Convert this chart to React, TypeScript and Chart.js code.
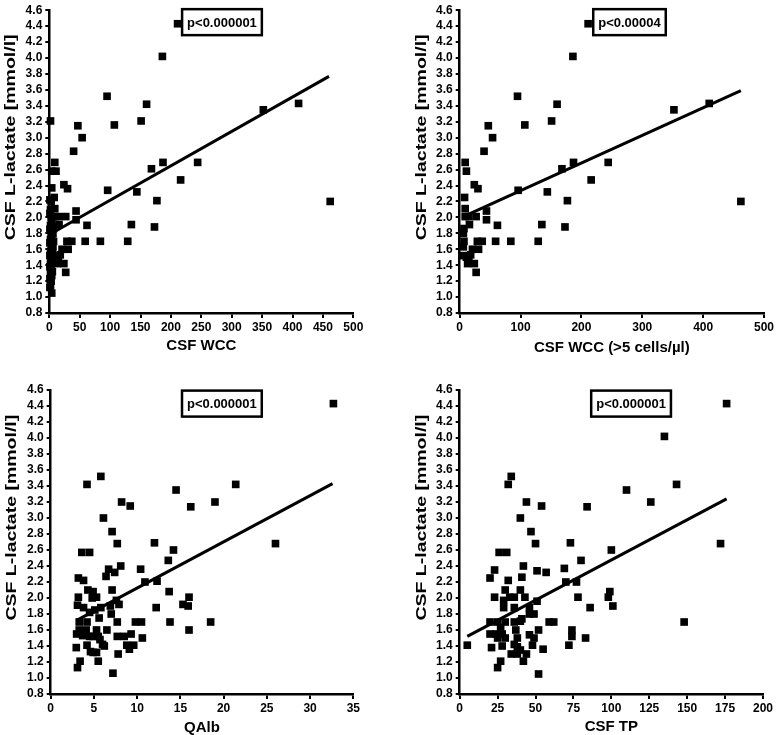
import React, { useEffect, useRef } from 'react';
import { Chart, registerables } from 'chart.js';

Chart.register(...registerables);

const FONT = "'Liberation Sans', Arial, Helvetica, sans-serif";

// ---- tick labels ----
const lactateTicks = [0.8, 1.0, 1.2, 1.4, 1.6, 1.8, 2.0, 2.2, 2.4, 2.6, 2.8, 3.0, 3.2, 3.4, 3.6, 3.8, 4.0, 4.2, 4.4, 4.6];
const wccTicks = [0, 50, 100, 150, 200, 250, 300, 350, 400, 450, 500];
const wcc5Ticks = [0, 100, 200, 300, 400, 500];
const qalbTicks = [0, 5, 10, 15, 20, 25, 30, 35];
const tpTicks = [0, 25, 50, 75, 100, 125, 150, 175, 200];

// ---- CSF WCC > 5 cells/µl ----
const wccX = [211, 186, 95, 160, 352, 410, 47, 107, 151, 54, 40, 168, 187, 244, 216, 9, 11, 24, 30, 8, 96, 144, 177, 462, 44, 44, 135, 173, 62, 59, 84, 129, 29, 37, 31, 21, 18, 24, 13, 27, 9, 9, 15, 27, 16, 6, 7, 7, 6, 6, 11, 15];
const wccY = [4.43, 4.02, 3.52, 3.42, 3.35, 3.43, 3.15, 3.16, 3.21, 3.0, 2.83, 2.61, 2.69, 2.69, 2.47, 2.69, 2.58, 2.41, 2.36, 2.25, 2.34, 2.32, 2.21, 2.2, 2.08, 1.97, 1.91, 1.88, 1.9, 1.7, 1.7, 1.7, 1.7, 1.7, 1.6, 1.6, 1.53, 1.42, 1.42, 1.31, 2.11, 2.01, 2.01, 2.01, 1.91, 1.8, 1.86, 1.7, 1.63, 1.52, 1.5, 1.45];
// ---- CSF WCC <= 5 cells/µl (only in the first panel) ----
const wccLowX = [2, 4, 4, 1, 3, 2, 1, 3, 4, 2, 5, 1, 3, 4, 2, 1, 4, 3, 2, 5, 1, 3, 4, 2, 1, 3, 5, 2, 4, 1, 3, 2, 1, 4];
const wccLowY = [3.21, 2.58, 2.37, 2.22, 2.2, 2.1, 2.05, 2.0, 1.95, 1.9, 1.88, 1.85, 1.8, 1.76, 1.72, 1.68, 1.65, 1.6, 1.57, 1.55, 1.52, 1.48, 1.45, 1.42, 1.38, 1.35, 1.32, 1.3, 1.27, 1.23, 1.2, 1.15, 1.12, 1.05];

// ---- QAlb ----
const qalbX = [32.7, 21.4, 19.0, 14.5, 16.2, 5.8, 4.2, 8.2, 9.2, 6.1, 7.1, 7.7, 12.0, 14.2, 26.0, 3.6, 4.5, 13.6, 10.4, 8.1, 6.7, 7.4, 6.4, 3.2, 3.8, 10.9, 12.3, 7.1, 4.3, 4.9, 13.7, 3.2, 5.3, 16.0, 7.6, 4.8, 15.3, 15.9, 12.2, 7.9, 3.1, 3.8, 5.8, 5.1, 4.5, 6.9, 7.0, 5.6, 13.8, 18.5, 7.7, 9.8, 10.5, 3.3, 4.2, 16.0, 6.5, 5.3, 3.3, 4.1, 3.0, 3.7, 4.5, 4.9, 5.5, 7.7, 8.5, 9.3, 10.6, 4.2, 5.7, 6.0, 6.2, 8.8, 9.6, 9.1, 2.96, 4.6, 4.9, 5.3, 7.8, 3.4, 5.5, 3.1, 7.2];
const qalbY = [4.43, 3.42, 3.2, 3.35, 3.14, 3.52, 3.42, 3.2, 3.15, 3.0, 2.83, 2.68, 2.69, 2.6, 2.68, 2.57, 2.57, 2.47, 2.36, 2.4, 2.36, 2.32, 2.27, 2.25, 2.22, 2.2, 2.21, 2.1, 2.1, 2.08, 2.08, 2.01, 2.01, 2.01, 1.97, 2.0, 1.92, 1.9, 1.88, 1.92, 1.91, 1.88, 1.88, 1.85, 1.82, 1.9, 1.8, 1.75, 1.7, 1.7, 1.7, 1.7, 1.7, 1.7, 1.7, 1.6, 1.6, 1.6, 1.6, 1.6, 1.55, 1.53, 1.52, 1.52, 1.52, 1.52, 1.52, 1.55, 1.5, 1.41, 1.48, 1.42, 1.4, 1.41, 1.41, 1.36, 1.38, 1.33, 1.32, 1.32, 1.3, 1.21, 1.21, 1.13, 1.06];

// ---- CSF TP ----
const tpX = [176, 135, 143, 110, 126, 84, 54, 44, 34, 32, 40, 47, 50, 73, 172, 100, 26, 31, 80, 42, 23, 51, 57, 69, 20, 41, 32, 70, 77, 30, 40, 23, 33, 36, 43, 78, 98, 99, 51, 101, 86, 29, 36, 46, 29, 46, 49, 41, 40, 20, 25, 30, 36, 59, 62, 148, 27, 37, 52, 74, 20, 24, 28, 46, 25, 30, 38, 49, 74, 83, 5, 21, 28, 36, 38, 48, 72, 55, 40, 34, 38, 44, 27, 42, 25, 52];
const tpY = [4.43, 4.02, 3.42, 3.35, 3.2, 3.14, 3.15, 3.2, 3.52, 3.42, 3.0, 2.83, 2.68, 2.69, 2.68, 2.6, 2.57, 2.57, 2.47, 2.4, 2.35, 2.34, 2.32, 2.37, 2.25, 2.26, 2.22, 2.2, 2.2, 2.1, 2.1, 2.01, 2.01, 2.01, 2.01, 2.01, 2.01, 2.08, 1.96, 1.9, 1.88, 1.88, 1.88, 1.88, 1.97, 1.8, 1.8, 1.74, 1.71, 1.7, 1.7, 1.7, 1.7, 1.7, 1.7, 1.7, 1.63, 1.6, 1.6, 1.6, 1.55, 1.55, 1.55, 1.54, 1.5, 1.5, 1.5, 1.5, 1.52, 1.5, 1.41, 1.38, 1.4, 1.42, 1.39, 1.41, 1.41, 1.36, 1.35, 1.3, 1.3, 1.3, 1.21, 1.21, 1.13, 1.05];

// ---- regression lines ----
const fitWccX = [4, 460];
const fitWccY = [1.8, 3.77];
const fitWcc5X = [6, 462];
const fitWcc5Y = [2.01, 3.59];
const fitQalbX = [3, 32.6];
const fitQalbY = [1.72, 3.43];
const fitTpX = [5, 176];
const fitTpY = [1.52, 3.24];

// ---- texts ----
const yTitleText = 'CSF L-lactate [mmol/l]';
const xTitles = ['CSF WCC', 'CSF WCC (>5 cells/µl)', 'QAlb', 'CSF TP'];
const pLabels = ['p<0.000001', 'p<0.00004', 'p<0.000001', 'p<0.000001'];
const pLabelX = [284, 279, 19.8, 113];
const pLabelY = [4.45, 4.45, 4.43, 4.43];

const yTitlePlugin = {
  id: 'yTitle',
  afterDraw(chart: any, _args: any, opts: any) {
    const { ctx, chartArea } = chart;
    ctx.save();
    ctx.font = `bold 15px ${FONT}`;
    ctx.fillStyle = '#000';
    ctx.textAlign = 'center';
    ctx.textBaseline = 'middle';
    const cy = chartArea.top + opts.frac * (chartArea.bottom - chartArea.top);
    ctx.translate(opts.x, cy);
    ctx.rotate(-Math.PI / 2);
    ctx.scale(1.3, 1);
    ctx.fillText(opts.text, 0, 0);
    ctx.restore();
  },
};

const pBoxPlugin = {
  id: 'pBox',
  afterDatasetsDraw(chart: any, _args: any, opts: any) {
    const { ctx } = chart;
    const cx = chart.scales.x.getPixelForValue(opts.x);
    const cy = chart.scales.y.getPixelForValue(opts.y);
    ctx.save();
    ctx.font = `bold 13px ${FONT}`;
    const tw = ctx.measureText(opts.text).width;
    const w = tw + 10;
    const h = 26;
    ctx.fillStyle = '#fff';
    ctx.fillRect(cx - w / 2, cy - h / 2, w, h);
    ctx.strokeStyle = '#000';
    ctx.lineWidth = 2.5;
    ctx.strokeRect(cx - w / 2, cy - h / 2, w, h);
    ctx.fillStyle = '#000';
    ctx.textAlign = 'center';
    ctx.textBaseline = 'middle';
    ctx.fillText(opts.text, cx, cy + 1);
    ctx.restore();
  },
};

type PanelCfg = {
  left: number; top: number; w: number; h: number;
  padTop: number; padRight: number; yWidth: number; xHeight: number;
  xTitlePad: number; yTitleX: number;
  xs: number[]; ys: number[]; fitX: number[]; fitY: number[];
  xMin: number; xMax: number; xTicks: number[];
  xTitle: string; pText: string; pX: number; pY: number;
};

function Panel({ cfg }: { cfg: PanelCfg }) {
  const ref = useRef<HTMLCanvasElement>(null);
  useEffect(() => {
    const canvas = ref.current;
    if (!canvas) return;
    const pts = cfg.xs.map((x, i) => ({ x, y: cfg.ys[i] }));
    const fit = cfg.fitX.map((x, i) => ({ x, y: cfg.fitY[i] }));
    const tickFont = { family: FONT, size: 12, weight: 'bold' as const };
    const chart = new Chart(canvas, {
      type: 'scatter',
      data: {
        datasets: [
          {
            data: pts,
            pointStyle: 'rect',
            pointRadius: 5.4,
            backgroundColor: '#000',
            borderColor: '#000',
            borderWidth: 0,
            showLine: false,
            clip: false,
          } as any,
          {
            data: fit,
            showLine: true,
            borderColor: '#000',
            borderWidth: 3,
            pointRadius: 0,
            fill: false,
            clip: false,
          } as any,
        ],
      },
      options: {
        responsive: false,
        animation: false,
        events: [],
        layout: {
          autoPadding: false,
          padding: { top: cfg.padTop, right: cfg.padRight, left: 0, bottom: 0 },
        },
        plugins: {
          legend: { display: false },
          tooltip: { enabled: false },
          yTitle: { x: cfg.yTitleX, frac: 0.42, text: yTitleText },
          pBox: { x: cfg.pX, y: cfg.pY, text: cfg.pText },
        } as any,
        scales: {
          x: {
            type: 'linear',
            min: cfg.xMin,
            max: cfg.xMax,
            afterBuildTicks: (s: any) => { s.ticks = cfg.xTicks.map((v) => ({ value: v })); },
            afterFit: (s: any) => { s.height = cfg.xHeight; },
            grid: { drawOnChartArea: false, drawTicks: true, tickLength: 5, color: '#000', lineWidth: 2 },
            border: { color: '#000', width: 2.5 },
            ticks: { color: '#000', font: tickFont, padding: 2, maxRotation: 0, autoSkip: false },
            title: {
              display: true,
              text: cfg.xTitle,
              color: '#000',
              font: { family: FONT, size: 15, weight: 'bold', lineHeight: 1 },
              padding: { top: 0, bottom: cfg.xTitlePad },
            },
          },
          y: {
            type: 'linear',
            min: 0.8,
            max: 4.6,
            afterBuildTicks: (s: any) => { s.ticks = lactateTicks.map((v) => ({ value: v })); },
            afterFit: (s: any) => { s.width = cfg.yWidth; },
            grid: { drawOnChartArea: false, drawTicks: true, tickLength: 4, color: '#000', lineWidth: 2 },
            border: { color: '#000', width: 2.5 },
            ticks: {
              color: '#000',
              font: tickFont,
              padding: 3,
              autoSkip: false,
              callback: (v: any) => Number(v).toFixed(1),
            },
          },
        },
      } as any,
      plugins: [yTitlePlugin, pBoxPlugin],
    });
    return () => chart.destroy();
  }, [cfg]);
  return (
    <canvas
      ref={ref}
      width={cfg.w}
      height={cfg.h}
      style={{ position: 'absolute', left: cfg.left, top: cfg.top, width: cfg.w, height: cfg.h }}
    />
  );
}

const panels: PanelCfg[] = [
  {
    left: 0, top: 0, w: 389, h: 368, padTop: 9.5, padRight: 35.7, yWidth: 49.3, xHeight: 55,
    xTitlePad: 14.5, yTitleX: 11,
    xs: [...wccX, ...wccLowX], ys: [...wccY, ...wccLowY], fitX: fitWccX, fitY: fitWccY,
    xMin: 0, xMax: 500, xTicks: wccTicks, xTitle: xTitles[0], pText: pLabels[0], pX: pLabelX[0], pY: pLabelY[0],
  },
  {
    left: 389, top: 0, w: 389, h: 368, padTop: 9.5, padRight: 14, yWidth: 70.7, xHeight: 55,
    xTitlePad: 12.5, yTitleX: 32.5,
    xs: wccX, ys: wccY, fitX: fitWcc5X, fitY: fitWcc5Y,
    xMin: 0, xMax: 500, xTicks: wcc5Ticks, xTitle: xTitles[1], pText: pLabels[1], pX: pLabelX[1], pY: pLabelY[1],
  },
  {
    left: 0, top: 368, w: 389, h: 367, padTop: 22, padRight: 35.7, yWidth: 50.7, xHeight: 41,
    xTitlePad: 0, yTitleX: 12,
    xs: qalbX, ys: qalbY, fitX: fitQalbX, fitY: fitQalbY,
    xMin: 0, xMax: 35, xTicks: qalbTicks, xTitle: xTitles[2], pText: pLabels[2], pX: pLabelX[2], pY: pLabelY[2],
  },
  {
    left: 389, top: 368, w: 389, h: 367, padTop: 22, padRight: 15, yWidth: 70.7, xHeight: 41,
    xTitlePad: 0.5, yTitleX: 32.5,
    xs: tpX, ys: tpY, fitX: fitTpX, fitY: fitTpY,
    xMin: 0, xMax: 200, xTicks: tpTicks, xTitle: xTitles[3], pText: pLabels[3], pX: pLabelX[3], pY: pLabelY[3],
  },
];

export default function App() {
  return (
    <div style={{ position: 'absolute', left: 0, top: 0, width: 778, height: 735, background: '#fff', overflow: 'hidden' }}>
      {panels.map((p, i) => (
        <Panel key={i} cfg={p} />
      ))}
    </div>
  );
}
